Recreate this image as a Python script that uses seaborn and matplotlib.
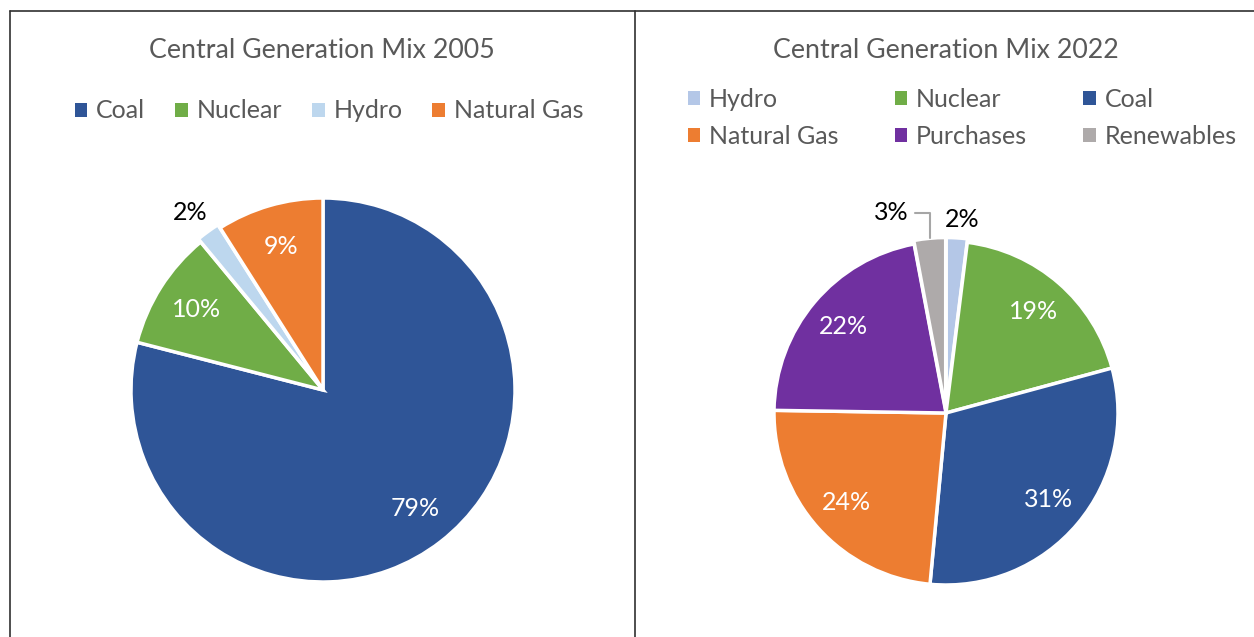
import matplotlib
matplotlib.use("Agg")
import matplotlib.pyplot as plt
from matplotlib.lines import Line2D
import seaborn as sns
import numpy as np

# data
labels_2005 = ["Coal", "Nuclear", "Hydro", "Natural Gas"]
values_2005 = [79, 10, 2, 9]
colors_2005 = ["#2F5597", "#70AD47", "#BDD7EE", "#ED7D31"]

labels_2022 = ["Hydro", "Nuclear", "Coal", "Natural Gas", "Purchases", "Renewables"]
values_2022 = [2, 19, 31, 24, 22, 3]
colors_2022 = ["#B4C7E7", "#70AD47", "#2F5597", "#ED7D31", "#7030A0", "#AEAAAA"]

sns.set_theme(style="white")
plt.rcParams["font.family"] = ["Lato", "DejaVu Sans"]

W, H = 1254, 637
fig = plt.figure(figsize=(W / 100, H / 100), dpi=100)
TXT = "#595959"
FS = 18


def pie_axes(cx, cy, r, lim=1.08):
    # axes box in pixels so that radius 1 = r pixels
    half = r * lim
    return fig.add_axes([(cx - half) / W, (H - cy - half) / H, 2 * half / W, 2 * half / H])


def draw_pie(ax, values, colors, small, explode):
    wedges, _ = ax.pie(values, colors=colors, startangle=90, counterclock=False,
                       explode=explode,
                       wedgeprops=dict(edgecolor="white", linewidth=2.5))
    total = sum(values)
    for w, v in zip(wedges, values):
        if v in small:
            continue
        mid = np.deg2rad((w.theta1 + w.theta2) / 2)
        ax.text(0.78 * np.cos(mid), 0.78 * np.sin(mid), f"{round(100 * v / total)}%",
                ha="center", va="center", color="white", fontsize=FS)
    ax.set_xlim(-1.08, 1.08)
    ax.set_ylim(-1.08, 1.08)
    ax.set_aspect("equal")
    ax.axis("off")
    return wedges


# left pie
ax1 = pie_axes(323, 390, 192)
w1 = draw_pie(ax1, values_2005, colors_2005, small={2}, explode=[0, 0, 0.02, 0])
hyd = w1[2]
mid = np.deg2rad((hyd.theta1 + hyd.theta2) / 2)
ax1.text(1.13 * np.cos(mid) - 0.03, 1.13 * np.sin(mid) + 0.01, "2%", ha="center", va="center",
         color="black", fontsize=FS, clip_on=False)

# right pie
ax2 = pie_axes(946, 413, 172)
w2 = draw_pie(ax2, values_2022, colors_2022, small={2, 3}, explode=[0.02, 0, 0, 0, 0, 0.02])
hyd = w2[0]
mid = np.deg2rad((hyd.theta1 + hyd.theta2) / 2)
ax2.text(1.15 * np.cos(mid) + 0.02, 1.15 * np.sin(mid) - 0.02, "2%", ha="center", va="center",
         color="black", fontsize=FS, clip_on=False)
ren = w2[5]
mid = np.deg2rad((ren.theta1 + ren.theta2) / 2)
ax2.annotate("3%", xy=(1.0 * np.cos(mid), 1.02 * np.sin(mid)),
             xytext=(1.15 * np.cos(mid) - 0.21, 1.15 * np.sin(mid) + 0.02),
             ha="center", va="center", color="black", fontsize=FS, annotation_clip=False,
             arrowprops=dict(arrowstyle="-", color="#A6A6A6", lw=1.5, shrinkA=2, shrinkB=0,
                             connectionstyle="angle,angleA=0,angleB=90,rad=0"))

# titles
fig.text(322 / W, 1 - 50 / H, "Central Generation Mix 2005", ha="center", va="center",
         fontsize=19.3, color=TXT)
fig.text(946 / W, 1 - 50 / H, "Central Generation Mix 2022", ha="center", va="center",
         fontsize=19.3, color=TXT)

# legends
fig.legend(w1, labels_2005, loc="center", bbox_to_anchor=(329 / W, 1 - 111 / H), ncol=4,
           frameon=False, fontsize=FS, labelcolor=TXT, handlelength=0.5, handleheight=0.5,
           handletextpad=0.35, columnspacing=1.2)
# matplotlib fills legend columns first; reorder so entries run across rows
order = [0, 3, 1, 4, 2, 5]
fig.legend([w2[i] for i in order], [labels_2022[i] for i in order], loc="center",
           bbox_to_anchor=(962 / W, 1 - 118 / H), ncol=3,
           frameon=False, fontsize=FS, labelcolor=TXT, handlelength=0.5, handleheight=0.5,
           handletextpad=0.35, columnspacing=2.25, labelspacing=0.55)
for h in fig.legends[0].legend_handles + fig.legends[1].legend_handles:
    h.set_edgecolor("none")

# panel borders
for x0, y0, x1, y1 in [(10, 11, 10, H), (635, 11, 635, H), (10, 11, W, 11)]:
    fig.add_artist(Line2D([x0 / W, x1 / W], [1 - y0 / H, 1 - y1 / H], color="#303030", lw=1.2))

fig.savefig("out.png", dpi=100)
